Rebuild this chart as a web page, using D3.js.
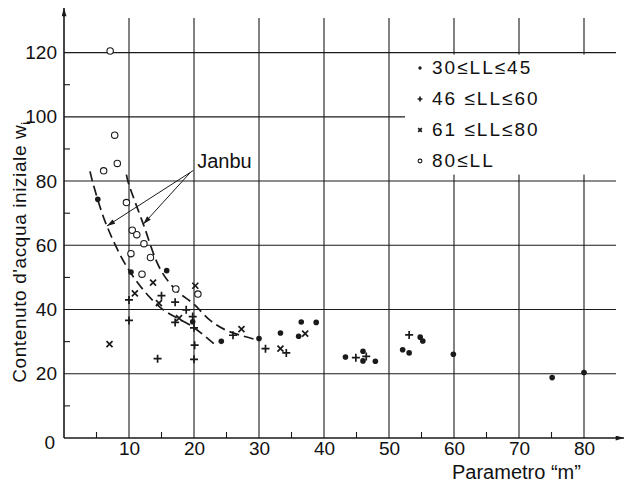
<!DOCTYPE html>
<html>
<head>
<meta charset="utf-8">
<script src="https://cdn.jsdelivr.net/npm/d3@7"></script>
<style>
  body { margin: 0; background: #fff; }
  svg { display: block; }
  text { font-family: "Liberation Sans", Arial, sans-serif; fill: #111; }
</style>
</head>
<body>
<div id="chart"></div>
<script>
// series: [parametro m, contenuto d'acqua w_i]
const ll30to45 = [
  [5.2, 74.3], [10.3, 51.7], [15.8, 52.1], [19.8, 36.2], [24.2, 30.1], [30.0, 31.0],
  [33.3, 32.7], [36.5, 36.1], [38.8, 36.0], [36.1, 31.7], [43.3, 25.2], [46.0, 27.0],
  [46.0, 24.0], [47.9, 23.9], [52.1, 27.5], [53.1, 26.5], [54.8, 31.4], [55.2, 30.2],
  [59.9, 26.1], [75.1, 18.8], [80.0, 20.4]
];
const ll46to60 = [
  [10.0, 43.0], [15.0, 44.3], [17.1, 42.3], [18.8, 39.9], [19.8, 37.8], [17.1, 36.0],
  [10.0, 36.6], [20.0, 34.3], [26.0, 32.0], [20.1, 28.9], [14.4, 24.7], [20.0, 24.5],
  [31.0, 27.8], [34.2, 26.5], [44.9, 25.0], [46.5, 25.4], [53.1, 32.1]
];
const ll61to80 = [
  [13.7, 48.4], [20.2, 47.4], [10.9, 45.0], [14.6, 42.0], [17.7, 37.3], [27.3, 33.9],
  [7.0, 29.2], [33.3, 27.8], [37.1, 32.5]
];
const llOver80 = [
  [7.1, 120.5], [7.8, 94.3], [8.2, 85.5], [6.1, 83.2], [9.6, 73.3], [10.5, 64.7],
  [11.2, 63.3], [12.3, 60.5], [10.3, 57.4], [13.3, 56.2], [12.0, 51.0], [17.2, 46.4],
  [20.6, 44.8]
];

// Janbu limit curves
const janbuLeft = [
  [4.0, 83], [4.5, 79], [6.6, 66], [10.2, 51.6], [14.8, 40.7], [19.9, 34.5], [23.5, 28.6]
];
const janbuRight = [
  [9.6, 82], [9.9, 79.5], [12.2, 66.6], [14.8, 52.6], [17.3, 45.9], [19.9, 41.8],
  [22.5, 36.6], [25, 33.5], [29.6, 30.6]
];
const janbuLabelAt = [20.5, 84];
const janbuArrowFrom = [[19.9, 83.3], [19.4, 82.6]];
const janbuArrowTo = [[6.6, 66], [12.2, 66.6]];

const xTicks = [10, 20, 30, 40, 50, 60, 70, 80];
const xMinor = [5, 15, 25, 35, 45, 55, 65, 75];
const yTicks = [20, 40, 60, 80, 100, 120];
const yMinor = [10, 30, 50, 70, 90, 110];
const legendLabels = ["30≤LL≤45", "46 ≤LL≤60", "61 ≤LL≤80", "80≤LL"];
const legendKinds = ["dot", "plus", "cross", "circle"];

const width = 628, height = 483;

const svg = d3.select("#chart").append("svg")
  .attr("width", width)
  .attr("height", height);

const x = d3.scaleLinear().domain([0, 80]).range([64, 584]);
const y = d3.scaleLinear().domain([0, 120]).range([438, 52.6]);

const ink = "#1a1a1a";

// arrowheads
const defs = svg.append("defs");
defs.append("marker")
  .attr("id", "tip")
  .attr("viewBox", "0 0 10 6")
  .attr("refX", 10).attr("refY", 3)
  .attr("markerUnits", "userSpaceOnUse")
  .attr("markerWidth", 9).attr("markerHeight", 5)
  .attr("orient", "auto")
  .append("path").attr("d", "M0,0L10,3L0,6z").attr("fill", ink);

// grid
const grid = svg.append("g").attr("stroke", ink).attr("stroke-width", 1.1);
grid.selectAll(".vgrid").data(xTicks).enter().append("line")
  .attr("x1", d => x(d)).attr("x2", d => x(d))
  .attr("y1", 18).attr("y2", y(0));
grid.selectAll(".hgrid").data(yTicks).enter().append("line")
  .attr("x1", x(0)).attr("x2", 616)
  .attr("y1", d => y(d)).attr("y2", d => y(d));

// minor ticks
grid.selectAll(".xminor").data(xMinor).enter().append("line")
  .attr("x1", d => x(d)).attr("x2", d => x(d))
  .attr("y1", y(0)).attr("y2", y(0) - 6);
grid.selectAll(".yminor").data(yMinor).enter().append("line")
  .attr("x1", x(0)).attr("x2", x(0) + 6)
  .attr("y1", d => y(d)).attr("y2", d => y(d));

// legend box hides the grid behind it
svg.append("rect")
  .attr("x", 405).attr("y", y(120) + 2)
  .attr("width", 220).attr("height", 120)
  .attr("fill", "#fff");

// axes with arrows
svg.append("line")
  .attr("x1", x(0)).attr("x2", 624)
  .attr("y1", y(0)).attr("y2", y(0))
  .attr("stroke", ink).attr("stroke-width", 1.6)
  .attr("marker-end", "url(#tip)");
svg.append("line")
  .attr("x1", x(0)).attr("x2", x(0))
  .attr("y1", y(0)).attr("y2", 8)
  .attr("stroke", ink).attr("stroke-width", 1.6)
  .attr("marker-end", "url(#tip)");

// tick labels through d3 axes
const xAxis = svg.append("g")
  .attr("transform", `translate(0,${y(0)})`)
  .call(d3.axisBottom(x).tickValues(xTicks).tickSize(0).tickPadding(4));
xAxis.select(".domain").remove();
xAxis.selectAll("text").attr("font-size", 19).attr("fill", ink)
  .attr("font-family", "'Liberation Sans', Arial, sans-serif");

const yAxis = svg.append("g")
  .attr("transform", `translate(${x(0)},0)`)
  .call(d3.axisLeft(y).tickValues(yTicks).tickSize(0).tickPadding(7));
yAxis.select(".domain").remove();
yAxis.selectAll("text").attr("font-size", 19).attr("fill", ink)
  .attr("font-family", "'Liberation Sans', Arial, sans-serif");

svg.append("text")
  .attr("x", x(0) - 9).attr("y", y(0) + 4)
  .attr("dy", "0.35em")
  .attr("text-anchor", "end")
  .attr("font-size", 19)
  .text("0");

// axis titles
svg.append("text")
  .attr("x", 452).attr("y", 479)
  .attr("font-size", 20)
  .text("Parametro “m”");

const yTitle = svg.append("text")
  .attr("transform", "translate(26,252) rotate(-90)")
  .attr("text-anchor", "middle")
  .attr("font-size", 19)
  .attr("letter-spacing", 0.6);
yTitle.append("tspan").text("Contenuto d'acqua iniziale w");
yTitle.append("tspan").attr("font-size", 13).attr("dy", 4).text("i");

// Janbu curves
const curve = d3.line().x(d => x(d[0])).y(d => y(d[1])).curve(d3.curveCatmullRom);
[janbuLeft, janbuRight].forEach(pts => {
  svg.append("path")
    .attr("d", curve(pts))
    .attr("fill", "none")
    .attr("stroke", ink)
    .attr("stroke-width", 1.7)
    .attr("stroke-dasharray", "10,5");
});

svg.append("text")
  .attr("x", x(janbuLabelAt[0])).attr("y", y(janbuLabelAt[1]))
  .attr("font-size", 20)
  .text("Janbu");

janbuArrowFrom.forEach((from, i) => {
  svg.append("line")
    .attr("x1", x(from[0])).attr("y1", y(from[1]))
    .attr("x2", x(janbuArrowTo[i][0])).attr("y2", y(janbuArrowTo[i][1]))
    .attr("stroke", ink).attr("stroke-width", 1)
    .attr("marker-end", "url(#tip)");
});

// marker drawing
function drawMarker(sel, kind, s) {
  if (kind === "dot") {
    sel.append("circle").attr("r", 2.8 * s).attr("fill", ink);
  } else if (kind === "circle") {
    sel.append("circle").attr("r", 3.2 * s).attr("fill", "#fff")
      .attr("stroke", ink).attr("stroke-width", 1.1);
  } else if (kind === "plus") {
    const h = 4 * s;
    sel.append("path").attr("d", `M${-h},0H${h}M0,${-h}V${h}`)
      .attr("stroke", ink).attr("stroke-width", 1.7);
  } else {
    const h = 3 * s;
    sel.append("path").attr("d", `M${-h},${-h}L${h},${h}M${-h},${h}L${h},${-h}`)
      .attr("stroke", ink).attr("stroke-width", 1.7);
  }
}

const series = [
  { data: ll30to45, kind: "dot" },
  { data: ll46to60, kind: "plus" },
  { data: ll61to80, kind: "cross" },
  { data: llOver80, kind: "circle" }
];
series.forEach(s => {
  svg.append("g").selectAll("g")
    .data(s.data).enter().append("g")
    .attr("transform", d => `translate(${x(d[0])},${y(d[1])})`)
    .each(function () { drawMarker(d3.select(this), s.kind, 1); });
});

// legend
const legend = svg.append("g").attr("transform", "translate(420,68)");
legendLabels.forEach((label, i) => {
  const row = legend.append("g").attr("transform", `translate(0,${i * 31})`);
  drawMarker(row, legendKinds[i], 0.6);
  row.append("text")
    .attr("x", 12).attr("y", 6)
    .attr("font-size", 19)
    .attr("letter-spacing", 2)
    .text(label);
});
</script>
</body>
</html>
